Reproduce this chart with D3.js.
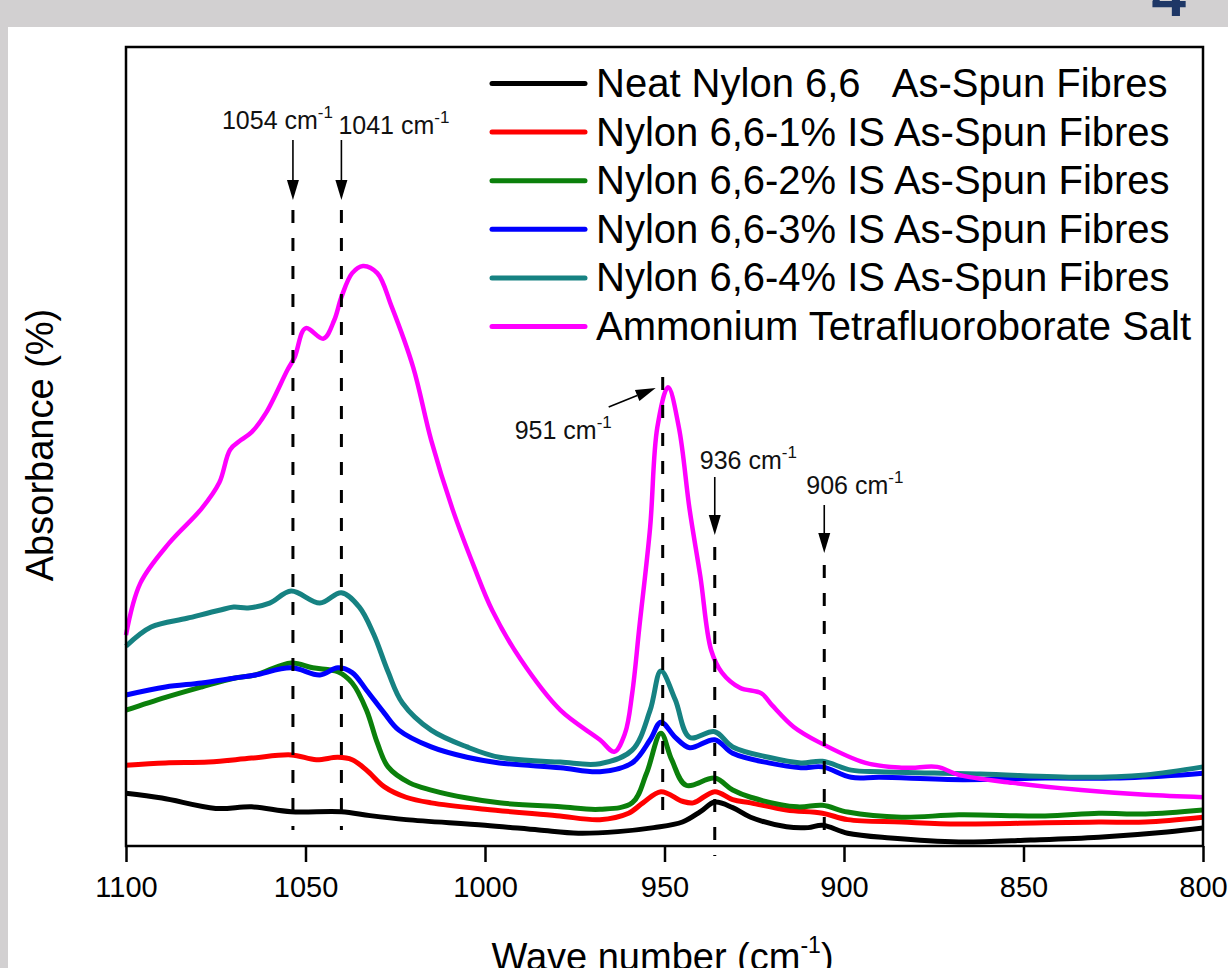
<!DOCTYPE html>
<html>
<head>
<meta charset="utf-8">
<script src="https://cdn.jsdelivr.net/npm/d3@7"></script>
<style>
html, body { margin: 0; padding: 0; background: #d2d0d1; }
svg { display: block; font-family: "Liberation Sans", Arial, sans-serif; }
</style>
</head>
<body>
<div class="chart"></div>
<script>
// wave number (cm-1) vs absorbance (arbitrary units)
const seriesNames = [
  'Neat Nylon 6,6   As-Spun Fibres',
  'Nylon 6,6-1% IS As-Spun Fibres',
  'Nylon 6,6-2% IS As-Spun Fibres',
  'Nylon 6,6-3% IS As-Spun Fibres',
  'Nylon 6,6-4% IS As-Spun Fibres',
  'Ammonium Tetrafluoroborate Salt'
];

const neat = [[1100,6.6],[1090,6.0],[1075,4.7],[1065,4.9],[1054,4.3],[1040,4.3],[1032,3.8],[1022,3.3],
  [1000,2.6],[985,2.0],[974,1.6],[963,1.8],[953,2.3],[945,3.0],[940,4.3],[936,5.5],[931,4.8],[926,3.6],
  [916,2.4],[910,2.3],[906,2.6],[899,1.6],[887,1.0],[868,0.5],[848,0.75],[829,1.1],[810,1.75],[800,2.25]];

const is1 = [[1100,10.1],[1089,10.4],[1077,10.5],[1065,11.0],[1054,11.4],[1047,10.8],[1041,11.1],[1037,10.8],
  [1033,9.5],[1028,7.4],[1022,6.1],[1015,5.4],[1000,4.6],[980,3.8],[968,3.3],[960,4.1],[956,5.4],[951,6.8],
  [945,5.6],[942,5.4],[936,6.8],[931,5.8],[926,5.4],[916,4.5],[906,4.1],[899,3.3],[884,3.0],[868,2.75],
  [844,2.9],[829,3.0],[816,3.0],[800,3.6]];

const is2 = [[1100,17.0],[1089,18.6],[1079,19.9],[1070,21.0],[1064,21.4],[1054,22.9],[1048,22.3],[1041,21.8],
  [1037,20.4],[1033,17.0],[1030,12.9],[1027,9.9],[1021,7.9],[1015,7.0],[1005,6.0],[996,5.4],[979,4.9],
  [968,4.6],[959,5.4],[955,9.1],[951,14.1],[948,10.8],[944,7.6],[936,8.5],[931,7.0],[926,6.1],[913,4.9],
  [906,5.1],[899,4.25],[884,3.6],[868,3.9],[844,3.75],[829,4.1],[816,4.0],[800,4.5]];

const is3 = [[1100,18.9],[1089,19.9],[1079,20.4],[1070,21.0],[1064,21.4],[1054,22.3],[1046,21.4],[1041,22.3],
  [1037,21.7],[1033,19.5],[1028,16.6],[1024,14.5],[1015,12.4],[1005,11.1],[996,10.4],[979,9.8],[968,9.3],
  [959,10.4],[954,13.3],[951,15.5],[947,13.6],[943,12.3],[936,13.3],[931,11.6],[921,10.4],[912,9.8],
  [906,9.9],[898,8.6],[890,8.6],[867,8.3],[844,8.5],[825,8.5],[806,8.9],[800,9.1]];

const is4 = [[1100,25.0],[1093,27.4],[1083,28.5],[1074,29.5],[1070,29.9],[1066,29.8],[1060,30.4],[1054,31.9],
  [1046,30.4],[1040,31.7],[1035,29.9],[1031,26.5],[1027,21.8],[1023,17.9],[1015,14.5],
  [1005,12.4],[996,11.1],[979,10.5],[968,10.3],[959,12.0],[954,17.0],[951,21.9],[947,18.3],[943,13.6],
  [936,14.3],[931,12.4],[921,11.1],[912,10.4],[906,10.6],[898,9.5],[890,9.3],[862,9.0],[834,8.6],
  [816,8.9],[800,9.9]];

const salt = [[1100,26.4],[1096,32.9],[1088,37.9],[1079,42.2],[1074,45.5],[1071,49.6],[1068,50.8],[1065,51.8],
  [1061,54.2],[1055,59.6],[1053,61.2],[1050,64.8],[1045,63.5],[1042,65.8],[1040,68.7],[1037,71.7],
  [1034,72.6],[1030,71.7],[1026,67.5],[1020,59.9],[1015,50.8],[1009,42.1],[1003,34.9],[998,29.5],
  [990,23.3],[979,17.0],[968,13.3],[964,11.8],[961,14.1],[959,19.1],[957,27.4],[954,39.9],[952,52.4],
  [949,57.4],[946,52.4],[943,42.1],[940,33.7],[937,24.5],[934,21.7],[929,19.8],[923,19.1],[920,17.6],
  [914,14.9],[907,13.0],[894,10.4],[884,9.8],[881,9.8],[874,9.9],[868,8.9],[853,7.9],[834,7.0],
  [816,6.4],[800,6.1]];

const peakPositions = [1053.5, 1040, 950.5, 936, 905.5];
const peakLabels = ['1054', '1041', '951', '936', '906'];
const xTicks = [1100, 1050, 1000, 950, 900, 850, 800];

const allSeries = [neat, is1, is2, is3, is4, salt];
const colors = ['#000000', '#ff0000', '#0b800b', '#0000ff', '#168282', '#ff00ff'];

let w = 1228, h = 968;
let margin = {top: 47, right: 25, bottom: 122, left: 126};
let width = w - margin.left - margin.right;
let height = h - margin.top - margin.bottom;

let xScale = d3.scaleLinear().domain([1100, 800]).range([0, width]);
let yScale = d3.scaleLinear().domain([0, 100]).range([height, 0]);

let line = d3.line()
  .x(d => xScale(d[0]))
  .y(d => yScale(d[1]))
  .curve(d3.curveCatmullRom.alpha(0.5));

let root = d3.select('.chart').append('svg')
  .attr('width', w)
  .attr('height', h);

// grey page border + the cut-off figure number
root.append('rect').attr('width', w).attr('height', h).attr('fill', '#d2d0d1');
root.append('rect').attr('x', 8).attr('y', 27).attr('width', w - 8).attr('height', h - 27).attr('fill', '#fff');
root.append('text')
  .text('4')
  .attr('x', 1186).attr('y', 16)
  .attr('text-anchor', 'end')
  .style('font-size', '62px')
  .style('font-weight', 'bold')
  .attr('fill', '#1e3766');

let svg = root.append('g')
  .attr('transform', 'translate(' + margin.left + ',' + margin.top + ')');

// x axis
let xaxis = svg.append('g')
  .attr('class', 'x axis')
  .attr('transform', 'translate(0,' + height + ')')
  .call(d3.axisBottom(xScale).tickValues(xTicks).tickFormat(d3.format('d'))
    .tickSizeInner(16).tickSizeOuter(0).tickPadding(14));
xaxis.select('.domain').remove();
xaxis.selectAll('line').attr('stroke', '#000').attr('stroke-width', 2.5);
xaxis.selectAll('text')
  .attr('fill', '#000')
  .style('font-size', '29px')
  .style('font-family', '"Liberation Sans", Arial, sans-serif');

// series
svg.selectAll('.spectrum')
  .data(allSeries)
  .enter().append('path')
  .attr('class', 'spectrum')
  .attr('d', d => line(d))
  .attr('fill', 'none')
  .attr('stroke', (d, i) => colors[i])
  .attr('stroke-width', (d, i) => i === 5 ? 4.5 : 5)
  .attr('stroke-linejoin', 'round');

// annotation layout (pixel offsets from the peak line)
const annot = [
  {tx: -71, ty: 129, arrow: [[0, 140], [0, 200]], dash: [210, 830]},
  {tx: -3, ty: 134, arrow: [[0, 140], [0, 200]], dash: [210, 830]},
  {tx: -148, ty: 439, arrow: [[-54, 407], [-7, 388]], dash: [377, 826]},
  {tx: -15, ty: 469, arrow: [[0, 477], [0, 535]], dash: [547, 856]},
  {tx: -18, ty: 494, arrow: [[0, 505], [0, 553]], dash: [565, 846]}
];

peakPositions.forEach((p, i) => {
  let a = annot[i];
  let px = margin.left + xScale(p);

  root.append('line')
    .attr('x1', px).attr('x2', px)
    .attr('y1', a.dash[0]).attr('y2', a.dash[1])
    .attr('stroke', '#000')
    .attr('stroke-width', 3)
    .attr('stroke-dasharray', '13,15');

  let x1 = px + a.arrow[0][0], y1 = a.arrow[0][1];
  let x2 = px + a.arrow[1][0], y2 = a.arrow[1][1];
  let ang = Math.atan2(y2 - y1, x2 - x1);
  let hl = 20, hw = 6;
  let bx = x2 - hl * Math.cos(ang), by = y2 - hl * Math.sin(ang);
  root.append('line')
    .attr('x1', x1).attr('y1', y1).attr('x2', bx).attr('y2', by)
    .attr('stroke', '#000').attr('stroke-width', 1.6);
  root.append('path')
    .attr('d', 'M' + x2 + ',' + y2 +
      'L' + (bx + hw * Math.sin(ang)) + ',' + (by - hw * Math.cos(ang)) +
      'L' + (bx - hw * Math.sin(ang)) + ',' + (by + hw * Math.cos(ang)) + 'Z')
    .attr('fill', '#000');

  let t = root.append('text')
    .attr('x', px + a.tx)
    .attr('y', a.ty)
    .style('font-size', '25px')
    .attr('fill', '#111');
  t.append('tspan').text(peakLabels[i] + ' cm');
  t.append('tspan').text('-1').style('font-size', '17px').attr('dy', -11);
});

// frame
svg.append('rect')
  .attr('width', width).attr('height', height)
  .attr('fill', 'none')
  .attr('stroke', '#000')
  .attr('stroke-width', 2.5);

// legend
let legend = root.append('g').attr('class', 'legend');
seriesNames.forEach((name, i) => {
  let ly = 83.5 + i * 48.6;
  legend.append('line')
    .attr('x1', 492).attr('x2', 585)
    .attr('y1', ly).attr('y2', ly)
    .attr('stroke', colors[i])
    .attr('stroke-width', 5)
    .attr('stroke-linecap', 'round');
  legend.append('text')
    .text(name)
    .attr('x', 596)
    .attr('y', ly + 13.5)
    .style('font-size', '40px')
    .style('white-space', 'pre')
    .attr('fill', '#000');
});

// axis titles
let xt = root.append('text')
  .attr('x', margin.left + width / 2 - 2)
  .attr('y', 970)
  .attr('text-anchor', 'middle')
  .style('font-size', '38px')
  .attr('fill', '#000');
xt.append('tspan').text('Wave number (cm');
xt.append('tspan').text('-1').style('font-size', '23px').attr('dy', -17);
xt.append('tspan').text(')').attr('dy', 17);

root.append('text')
  .text('Absorbance (%)')
  .attr('transform', 'translate(53,445) rotate(-90)')
  .attr('text-anchor', 'middle')
  .style('font-size', '38px')
  .attr('fill', '#000');
</script>
</body>
</html>
